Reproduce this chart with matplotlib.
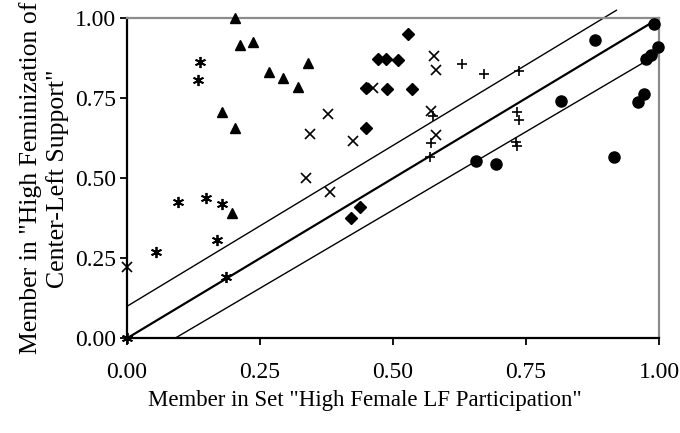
import matplotlib
matplotlib.use('Agg')
import matplotlib.pyplot as plt
import numpy as np

'''Fuzzy-set membership scatter: female LF participation vs feminization
of center-left support, with the diagonal and a +/-0.1 band.'''

plt.rcParams['font.family'] = ['Liberation Serif', 'DejaVu Serif']

# membership scores by case group
tri_x = [0.203, 0.212, 0.236, 0.341, 0.267, 0.294, 0.322, 0.179, 0.203, 0.197]
tri_y = [1.000, 0.917, 0.927, 0.861, 0.833, 0.813, 0.784, 0.708, 0.656, 0.391]

ast_x = [0.137, 0.134, 0.096, 0.148, 0.178, 0.170, 0.055, 0.186, 0.000]
ast_y = [0.864, 0.807, 0.427, 0.438, 0.420, 0.307, 0.269, 0.191, 0.000]

cross_x = [0.344, 0.336, 0.382, 0.378, 0.425, 0.462, 0.578, 0.581, 0.571, 0.581, 0.000]
cross_y = [0.638, 0.500, 0.458, 0.701, 0.617, 0.781, 0.883, 0.838, 0.711, 0.636, 0.224]

dia_x = [0.528, 0.471, 0.487, 0.509, 0.449, 0.488, 0.536, 0.449, 0.438, 0.421]
dia_y = [0.950, 0.872, 0.872, 0.870, 0.781, 0.778, 0.778, 0.656, 0.410, 0.375]

plus_x = [0.629, 0.671, 0.736, 0.575, 0.571, 0.570, 0.733, 0.736, 0.731, 0.733]
plus_y = [0.857, 0.825, 0.836, 0.695, 0.611, 0.567, 0.708, 0.682, 0.614, 0.601]

circ_x = [0.991, 0.880, 0.999, 0.976, 0.985, 0.815, 0.972, 0.961, 0.915, 0.656, 0.694]
circ_y = [0.982, 0.932, 0.911, 0.872, 0.884, 0.743, 0.763, 0.738, 0.567, 0.555, 0.544]

# diagonal and the band around it
diag_x = [0.0, 1.0]
diag_y = [0.0, 1.0]
upper_x = [0.0, 0.92]
upper_y = [0.10, 1.025]
lower_x = [0.09, 1.0]
lower_y = [0.0, 0.89]

ticks = [0.0, 0.25, 0.5, 0.75, 1.0]
tick_labels = ['0.00', '0.25', '0.50', '0.75', '1.00']

fig = plt.figure(figsize=(6.8, 4.33), dpi=100)
ax = fig.add_axes([0.1868, 0.2187, 0.7823, 0.7391])

ax.plot(diag_x, diag_y, color='black', lw=1.6, zorder=2)
ax.plot(upper_x, upper_y, color='black', lw=1.0, zorder=2, clip_on=False)
ax.plot(lower_x, lower_y, color='black', lw=1.0, zorder=2)

kw = dict(color='black', clip_on=False, zorder=3, linestyle='none')
ax.plot(tri_x, tri_y, marker='^', markersize=7.5, **kw)
ax.plot(ast_x, ast_y, marker=(6, 2, 0), markersize=8, mew=1.3, **kw)
ax.plot(cross_x, cross_y, marker='x', markersize=7, mew=1.2, **kw)
ax.plot(dia_x, dia_y, marker='D', markersize=6, **kw)
ax.plot(plus_x, plus_y, marker='+', markersize=7, mew=1.2, **kw)
ax.plot(circ_x, circ_y, marker='o', markersize=8, **kw)

ax.set_xlim(0, 1)
ax.set_ylim(0, 1)
ax.set_xticks(ticks)
ax.set_xticklabels(tick_labels)
ax.set_yticks(ticks)
ax.set_yticklabels(tick_labels)
ax.tick_params(direction='out', length=5, width=1.3, labelsize=17, colors='black')
ax.tick_params(axis='x', pad=12)
ax.tick_params(axis='y', pad=3)

for side in ['left', 'bottom']:
    ax.spines[side].set_linewidth(1.6)
    ax.spines[side].set_color('black')
for side in ['top', 'right']:
    ax.spines[side].set_linewidth(1.6)
    ax.spines[side].set_color('#8c8c8c')

ax.set_xlabel('Member in Set "High Female LF Participation"', fontsize=16.5, labelpad=4)
ax.xaxis.set_label_coords(0.447, -0.16)
ax.set_ylabel('Member in "High Feminization of\nCenter-Left Support"', fontsize=18.5,
              labelpad=4, linespacing=1.25)

fig.savefig('out.png', dpi=100)
